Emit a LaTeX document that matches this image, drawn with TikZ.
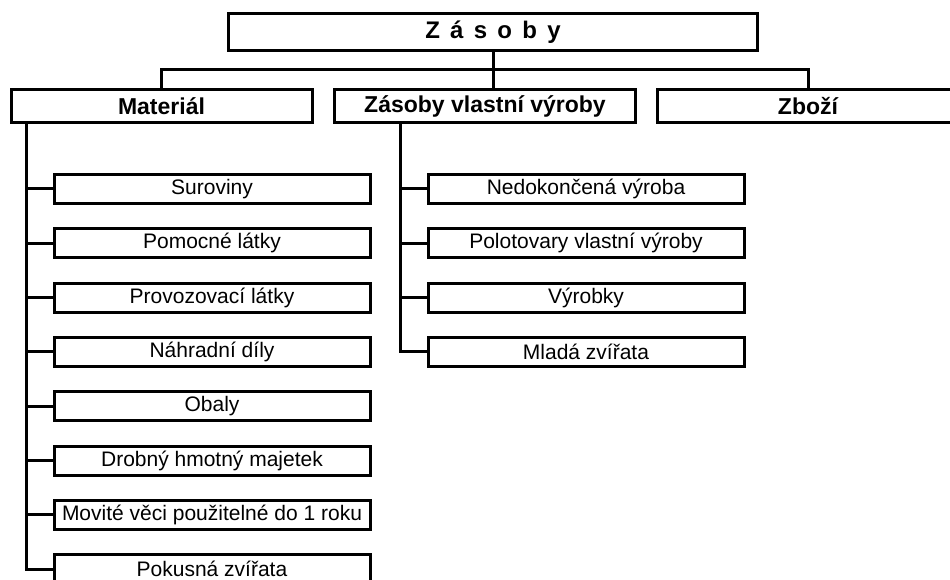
\documentclass[tikz,border=0pt]{standalone}
\usepackage{fontspec}
\setmainfont{Liberation Sans}
\newfontfamily\titlefont[LetterSpace=15]{Liberation Sans}
\usetikzlibrary{positioning}

\begin{document}
\begin{tikzpicture}[x=1pt, y=-1pt, line width=3pt, node distance=22.3pt,
    topbox/.style={rectangle, draw, inner sep=0pt, minimum width=529pt, minimum height=37pt, font=\titlefont\fontsize{24}{28}\selectfont\bfseries},
    groupbox/.style={rectangle, draw, inner sep=0pt, minimum width=301pt, minimum height=33pt, font=\fontsize{23}{27}\selectfont\bfseries},
    itembox/.style={rectangle, draw, inner sep=0pt, minimum width=316pt, minimum height=29pt, font=\fontsize{21}{25}\selectfont}]

            \useasboundingbox (0,0) rectangle (950,580);

            % Top node
            \node[topbox] (zasoby) at (493,32) {Z á s o b y};

            % Groups
            \node[groupbox] (material) at (161.5,106) {Materiál};
            \node[groupbox] (vlastni) at (485,106) {Zásoby vlastní výroby};
            \node[groupbox] (zbozi) at (808,106) {Zboží};

            % Material items
            \node[itembox] (suroviny) at (212,189) {Suroviny};
            \node[itembox, below=of suroviny] (pomocne) {Pomocné látky};
            \node[itembox, below=of pomocne] (provozovaci) {Provozovací látky};
            \node[itembox, below=of provozovaci] (nahradni) {Náhradní díly};
            \node[itembox, below=of nahradni] (obaly) {Obaly};
            \node[itembox, below=of obaly] (drobny) {Drobný hmotný majetek};
            \node[itembox, below=of drobny] (movite) {Movité věci použitelné do 1 roku};
            \node[itembox, below=of movite] (pokusna) {Pokusná zvířata};

            % Own production items
            \node[itembox] (nedokoncena) at (586,189) {Nedokončená výroba};
            \node[itembox, below=of nedokoncena] (polotovary) {Polotovary vlastní výroby};
            \node[itembox, below=of polotovary] (vyrobky) {Výrobky};
            \node[itembox, below=of vyrobky] (mlada) {Mladá zvířata};

            % Connectors
            \draw (zasoby.south) -- (zasoby.south |- vlastni.north);
            \draw (material.north) -- ++(0,-18) -| (zbozi.north);

            \coordinate (trunkM) at ([xshift=16.5pt]material.south west);
            \coordinate (trunkV) at ([xshift=67.5pt]vlastni.south west);
            \foreach \n in {suroviny, pomocne, provozovaci, nahradni, obaly, drobny, movite, pokusna}
                \draw (trunkM) |- (\n.west);
            \foreach \n in {nedokoncena, polotovary, vyrobky, mlada}
                \draw (trunkV) |- (\n.west);

        \end{tikzpicture}
\end{document}
